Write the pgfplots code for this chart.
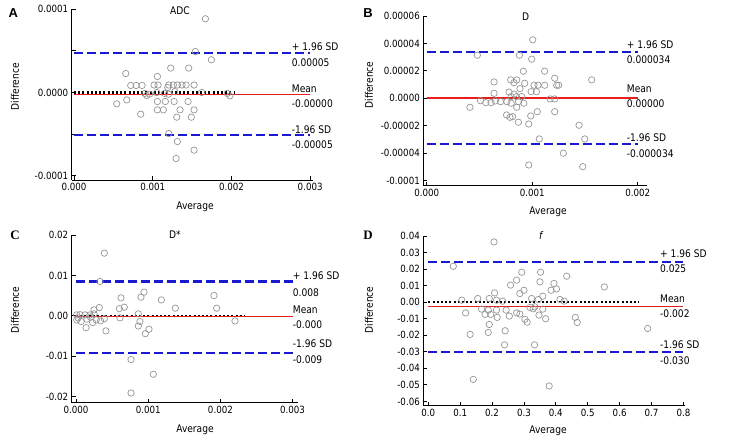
\documentclass[border=0pt]{standalone}
\usepackage{pgfplots}
\pgfplotsset{compat=1.18}
\usepackage{fontspec}
\setmainfont{DejaVu Sans}[FakeStretch=0.87]
\newfontfamily\arialb{Liberation Sans}
\newfontfamily\serifb{Liberation Serif}
\definecolor{ptgray}{RGB}{150,150,150}
\definecolor{sdblue}{RGB}{25,25,210}
\definecolor{meanred}{RGB}{232,30,30}
\pgfplotsset{
 ba/.style={
  scale only axis, axis x line=bottom, axis y line=left,
  axis line style={-, line width=0.8bp},
  tick align=inside, major tick length=4bp, minor tick length=4bp,
  tick style={black, line width=0.8bp},
  ticklabel style={font=\fontsize{10}{12}\selectfont},
  scaled ticks=false,
  clip=false, anchor=south west,
 },
 pts/.style={only marks, mark=o, mark size=3.2bp, mark options={ptgray, line width=0.7bp}},
 sd/.style={sdblue, line width=2.2bp, dash pattern=on 9bp off 4bp, no marks},
 mn/.style={meanred, line width=1.3bp, no marks},
 zr/.style={black, line width=2.2bp, dash pattern=on 2bp off 2.2bp, no marks},
}
\tikzset{lab/.style={anchor=west, inner sep=0pt, font=\fontsize{10.5}{12}\selectfont},
 ttl/.style={inner sep=0pt, font=\fontsize{10.5}{12}\selectfont},
 pl/.style={inner sep=0pt, font=\fontsize{13}{15}\selectfont\arialb\bfseries}}
\begin{document}
\begin{tikzpicture}
\path[use as bounding box] (0,0) rectangle (736bp,444bp);
% ---------- A ----------
\begin{axis}[ba, at={(71.7bp,264bp)}, width=241.6bp, height=170.8bp,
 xmin=-0.00003, xmax=0.00304, ymin=-0.000105, ymax=0.0001,
 xtick={0,0.001,0.002,0.003}, xticklabels={0.000,0.001,0.002,0.003},
 ytick={-0.0001,0,0.0001}, yticklabels={-0.0001,0.0000,0.0001},
 minor ytick={-0.00005,0.00005}]
\addplot[pts] coordinates {
(0.001669,0.0000885) (0.001541,0.0000492) (0.001745,0.0000393) (0.001228,0.0000293)
(0.001457,0.0000293) (0.000657,0.0000228) (0.001059,0.0000192) (0.000720,0.0000085)
(0.000788,0.0000085) (0.000864,0.0000085) (0.001017,0.0000090) (0.001067,0.0000090)
(0.001203,0.0000090) (0.001262,0.0000090) (0.001313,0.0000090) (0.001372,0.0000090)
(0.001423,0.0000090) (0.001525,0.0000090) (0.001190,0.0000060) (0.000923,-0.0000036)
(0.000900,-0.0000010) (0.000960,-0.0000020) (0.001051,0.0000000) (0.001150,-0.0000010)
(0.001200,-0.0000020) (0.001280,0.0000010) (0.001622,0.0000000) (0.001948,-0.0000010)
(0.001980,-0.0000040) (0.000542,-0.0000136) (0.000670,-0.0000088) (0.001059,-0.0000108)
(0.001160,-0.0000108) (0.001271,-0.0000108) (0.001449,-0.0000108) (0.001059,-0.0000208)
(0.001135,-0.0000208) (0.001347,-0.0000208) (0.001525,-0.0000208) (0.000847,-0.0000260)
(0.001305,-0.0000296) (0.001490,-0.0000296) (0.001203,-0.0000492) (0.001313,-0.0000588)
(0.001525,-0.0000692) (0.001296,-0.0000792)};
\addplot[zr] coordinates {(0,0) (0.00205,0)};
\addplot[mn] coordinates {(0,-0.000002) (0.003,-0.000002)};
\addplot[sd] coordinates {(0,0.0000473) (0.003,0.0000473)};
\addplot[sd] coordinates {(0,-0.0000508) (0.003,-0.0000508)};
\end{axis}
% ---------- B ----------
\begin{axis}[ba, at={(423.3bp,258.3bp)}, width=223.4bp, height=169.7bp,
 xmin=-0.0000322, xmax=0.002085, ymin=-0.0000638, ymax=0.00006,
 xtick={0,0.001,0.002}, xticklabels={0.000,0.001,0.002},
 ytick={-0.00006,-0.00004,-0.00002,0,0.00002,0.00004,0.00006},
 yticklabels={-0.0001,-0.00004,-0.00002,0.0000,0.00002,0.00004,0.00006}]
\addplot[pts] coordinates {
(0.001005,0.0000426) (0.000480,0.0000314) (0.000878,0.0000314) (0.000995,0.0000285)
(0.000916,0.0000197) (0.001118,0.0000197) (0.000638,0.0000119) (0.000796,0.0000134)
(0.000827,0.0000114) (0.000853,0.0000134) (0.001213,0.0000146) (0.001564,0.0000134)
(0.000929,0.0000109) (0.001017,0.0000095) (0.001055,0.0000095) (0.001118,0.0000095)
(0.001232,0.0000095) (0.001251,0.0000095) (0.000884,0.0000070) (0.000638,0.0000036)
(0.000780,0.0000045) (0.000830,0.0000030) (0.000990,0.0000048) (0.001040,0.0000048)
(0.000800,0.0000012) (0.000850,0.0000012) (0.000900,0.0000012) (0.000510,-0.0000018)
(0.000560,-0.0000032) (0.000610,-0.0000032) (0.000650,-0.0000020) (0.000700,-0.0000025)
(0.000760,-0.0000025) (0.000800,-0.0000036) (0.000870,-0.0000025) (0.000920,-0.0000036)
(0.001170,-0.0000005) (0.001213,-0.0000005) (0.000410,-0.0000066) (0.000853,-0.0000066)
(0.001048,-0.0000098) (0.001213,-0.0000098) (0.000757,-0.0000122) (0.000789,-0.0000139)
(0.000814,-0.0000134) (0.000986,-0.0000129) (0.000869,-0.0000175) (0.000967,-0.0000188)
(0.001444,-0.0000197) (0.001067,-0.0000297) (0.001498,-0.0000297) (0.001295,-0.0000401)
(0.000967,-0.0000487) (0.001479,-0.0000499)};
\addplot[zr] coordinates {(0,0) (0.00161,0)};
\addplot[mn] coordinates {(0,0.0000002) (0.002,0.0000002)};
\addplot[sd] coordinates {(0,0.0000336) (0.002,0.0000336)};
\addplot[sd] coordinates {(0,-0.0000336) (0.002,-0.0000336)};
\end{axis}
% ---------- C ----------
\begin{axis}[ba, at={(71.7bp,41.3bp)}, width=226.6bp, height=167.7bp,
 xmin=-0.0000596, xmax=0.003079, ymin=-0.02146, ymax=0.02,
 xtick={0,0.001,0.002,0.003}, xticklabels={0.000,0.001,0.002,0.003},
 ytick={-0.02,-0.01,0,0.01,0.02}, yticklabels={-0.02,-0.01,0.00,0.01,0.02}]
\addplot[pts] coordinates {
(0.000392,0.01552) (0.000332,0.0085) (0.000942,0.00587) (0.000900,0.00463)
(0.000623,0.00446) (0.001182,0.00396) (0.001911,0.00503) (0.001948,0.00190)
(0.001376,0.00190) (0.000669,0.00215) (0.000600,0.00180) (0.000609,-0.00050)
(0.000323,0.00206) (0.000249,0.00149) (0.000249,0.00050) (0.000194,0.00025)
(0.000863,0.00050) (0.000010,0.00025) (0.000055,0.00030) (0.000125,0.00025)
(0.000030,-0.00050) (0.000150,-0.00080) (0.000200,-0.00030)
(0.000010,-0.0010) (0.000070,-0.0014) (0.000139,-0.0029) (0.000230,-0.00165)
(0.000280,-0.0010) (0.000340,-0.00124) (0.000392,-0.0007) (0.000415,-0.0037)
(0.000886,-0.0014) (0.000863,-0.0025) (0.001011,-0.0033) (0.000960,-0.0044)
(0.002202,-0.00124) (0.000762,-0.0108) (0.001071,-0.01443) (0.000762,-0.01906)};
\addplot[zr] coordinates {(0,0) (0.00234,0)};
\addplot[mn] coordinates {(0,-0.0002) (0.003,-0.0002)};
\addplot[sd] coordinates {(0,0.0085) (0.003,0.0085)};
\addplot[sd] coordinates {(0,-0.0091) (0.003,-0.0091)};
\end{axis}
% ---------- D ----------
\begin{axis}[ba, at={(423.3bp,38.3bp)}, width=261.7bp, height=169.7bp,
 xmin=-0.0157, xmax=0.805, ymin=-0.0626, ymax=0.04,
 xtick={0,0.1,0.2,0.3,0.4,0.5,0.6,0.7,0.8},
 xticklabels={0.0,0.1,0.2,0.3,0.4,0.5,0.6,0.7,0.8},
 ytick={-0.06,-0.05,-0.04,-0.03,-0.02,-0.01,0,0.01,0.02,0.03,0.04},
 yticklabels={-0.06,-0.05,-0.04,-0.03,-0.02,-0.01,0.00,0.01,0.02,0.03,0.04}]
\addplot[pts] coordinates {
(0.206,0.0364) (0.0784,0.0217) (0.293,0.0181) (0.352,0.0181) (0.434,0.0157)
(0.277,0.0133) (0.350,0.0123) (0.258,0.0103) (0.394,0.0113) (0.402,0.0080)
(0.385,0.0072) (0.300,0.0072) (0.287,0.0052) (0.359,0.0036) (0.208,0.0056)
(0.155,0.0022) (0.105,0.0012) (0.191,0.0022) (0.214,0.0012) (0.233,0.0006)
(0.324,0.0022) (0.345,0.0016) (0.413,0.0016) (0.426,0.0006) (0.117,-0.0065)
(0.167,-0.0042) (0.188,-0.0048) (0.214,-0.0048) (0.244,-0.0048) (0.178,-0.0074)
(0.196,-0.0074) (0.216,-0.0092) (0.254,-0.0084) (0.277,-0.0065) (0.287,-0.0072)
(0.303,-0.0104) (0.310,-0.0121) (0.329,-0.0040) (0.334,-0.0028) (0.359,-0.0042)
(0.347,-0.0078) (0.368,-0.0100) (0.319,-0.0032) (0.461,-0.0092) (0.467,-0.0123)
(0.191,-0.0135) (0.188,-0.0183) (0.131,-0.0195) (0.241,-0.0173) (0.239,-0.0258)
(0.333,-0.0258) (0.141,-0.0467) (0.379,-0.0507) (0.552,0.0092) (0.688,-0.0159)};
\addplot[zr] coordinates {(0,0) (0.66,0)};
\addplot[mn] coordinates {(0,-0.0028) (0.8,-0.0028)};
\addplot[sd] coordinates {(0,0.0245) (0.8,0.0245)};
\addplot[sd] coordinates {(0,-0.0300) (0.8,-0.0300)};
\end{axis}
% ---------- texts ----------
\node[pl] at (13.3bp,431.3bp) {A};
\node[pl] at (368bp,431bp) {B};
\node[pl, font=\fontsize{13}{15}\selectfont\serifb\bfseries] at (15bp,209bp) {C};
\node[pl, font=\fontsize{13}{15}\selectfont\serifb\bfseries] at (368bp,209bp) {D};
\node[ttl] at (180bp,433bp) {ADC};
\node[ttl] at (525.7bp,427.3bp) {D};
\node[ttl] at (175bp,209bp) {D*};
\node[ttl, font=\fontsize{10.5}{12}\selectfont\itshape] at (540.7bp,208bp) {f};
\node[ttl, rotate=90] at (15bp,357.3bp) {Difference};
\node[ttl, rotate=90] at (369bp,359bp) {Difference};
\node[ttl, rotate=90] at (15bp,134bp) {Difference};
\node[ttl, rotate=90] at (369bp,134bp) {Difference};
\node[ttl] at (195bp,237bp) {Average};
\node[ttl] at (548bp,232bp) {Average};
\node[ttl] at (195bp,14bp) {Average};
\node[ttl] at (548bp,13bp) {Average};
% A labels
\node[lab] at (291.7bp,397.3bp) {+ 1.96 SD};
\node[lab] at (291.7bp,381.7bp) {0.00005};
\node[lab] at (291.7bp,355.7bp) {Mean};
\node[lab] at (291.7bp,340bp) {-0.00000};
\node[lab] at (291.7bp,314.7bp) {-1.96 SD};
\node[lab] at (291.7bp,299bp) {-0.00005};
% B labels
\node[lab] at (626.7bp,399bp) {+ 1.96 SD};
\node[lab] at (626.7bp,384bp) {0.000034};
\node[lab] at (626.7bp,355.7bp) {Mean};
\node[lab] at (626.7bp,340bp) {0.00000};
\node[lab] at (626.7bp,306.3bp) {-1.96 SD};
\node[lab] at (626.7bp,290bp) {-0.000034};
% C labels
\node[lab] at (292.7bp,168bp) {+ 1.96 SD};
\node[lab] at (292.7bp,151.3bp) {0.008};
\node[lab] at (292.7bp,134bp) {Mean};
\node[lab] at (292.7bp,119bp) {-0.000};
\node[lab] at (292.7bp,100bp) {-1.96 SD};
\node[lab] at (292.7bp,84.7bp) {-0.009};
% D labels
\node[lab] at (660bp,190.7bp) {+ 1.96 SD};
\node[lab] at (660bp,175.7bp) {0.025};
\node[lab] at (660bp,145bp) {Mean};
\node[lab] at (660bp,130bp) {-0.002};
\node[lab] at (660bp,99bp) {-1.96 SD};
\node[lab] at (660bp,83.3bp) {-0.030};
\end{tikzpicture}
\end{document}
